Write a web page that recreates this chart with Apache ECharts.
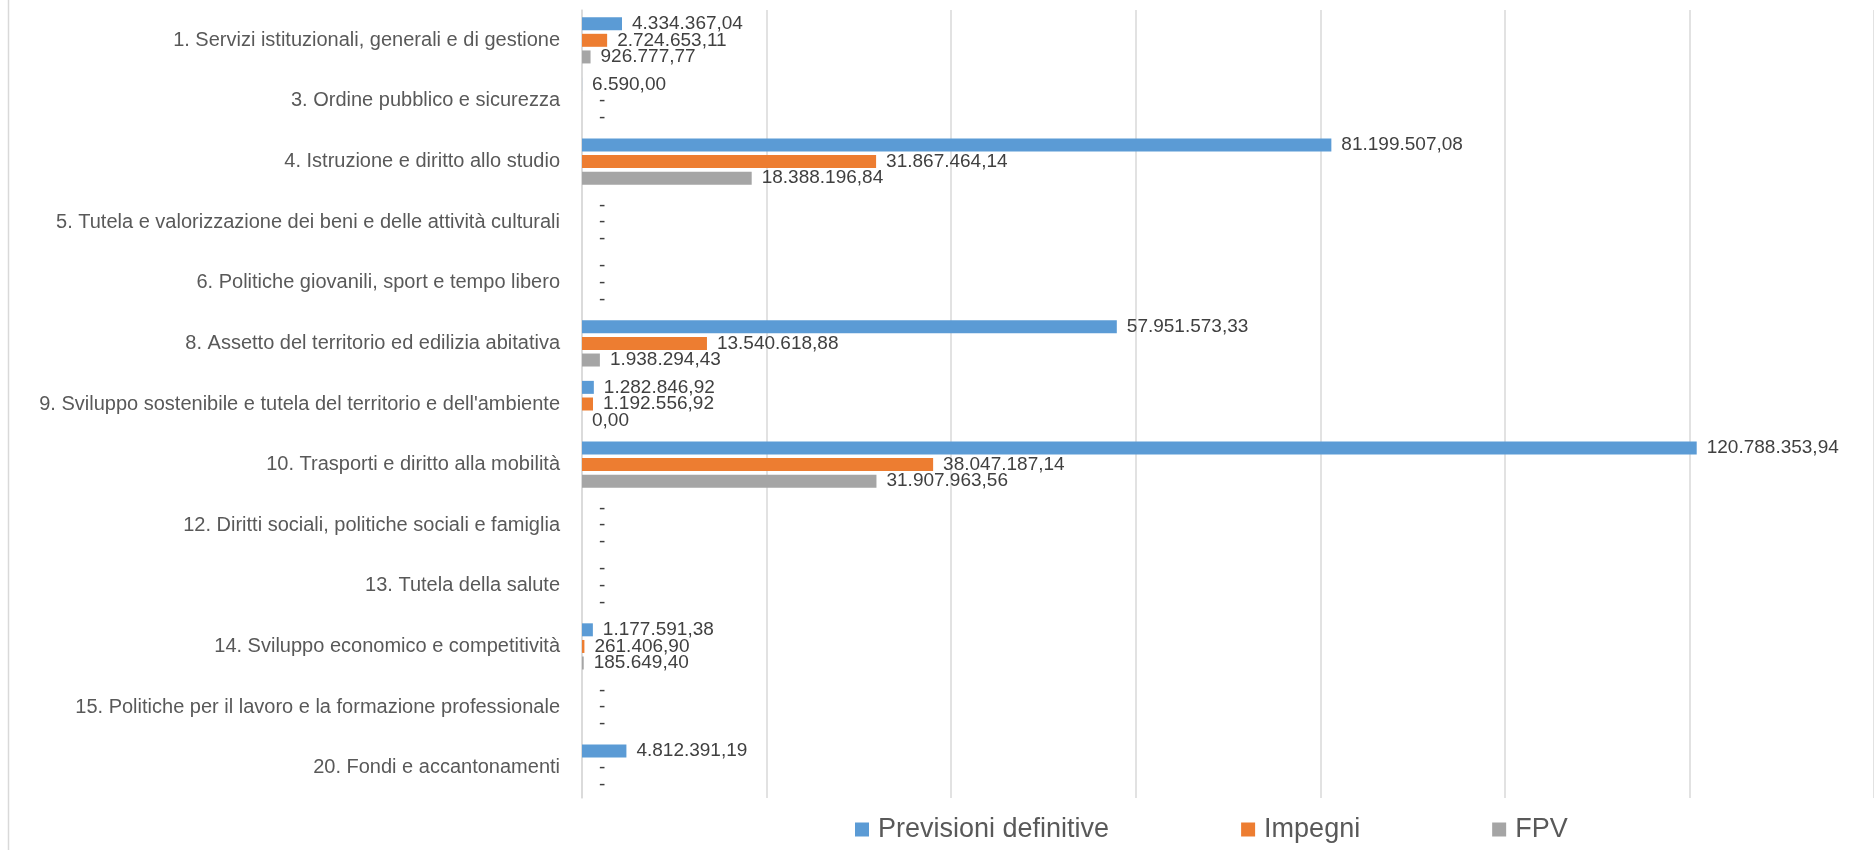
<!DOCTYPE html>
<html>
<head>
<meta charset="utf-8">
<script src="https://cdn.jsdelivr.net/npm/echarts@6/dist/echarts.min.js"></script>
<style>
  html, body { margin: 0; padding: 0; background: #ffffff; }
  #chart { width: 1874px; height: 850px; }
</style>
</head>
<body>
<div id="chart"></div>
<script>
const categories = [
  "1. Servizi istituzionali, generali e di gestione",
  "3. Ordine pubblico e sicurezza",
  "4. Istruzione e diritto allo studio",
  "5. Tutela e valorizzazione dei beni e delle attività culturali",
  "6. Politiche giovanili, sport e tempo libero",
  "8. Assetto del territorio ed edilizia abitativa",
  "9. Sviluppo sostenibile e tutela del territorio e dell'ambiente",
  "10. Trasporti e diritto alla mobilità",
  "12. Diritti sociali, politiche sociali e famiglia",
  "13. Tutela della salute",
  "14. Sviluppo economico e competitività",
  "15. Politiche per il lavoro e la formazione professionale",
  "20. Fondi e accantonamenti"
];
const seriesNames = ["Previsioni definitive", "Impegni", "FPV"];
const previsioniDefinitive = [4334367.04, 6590.00, 81199507.08, 0, 0, 57951573.33, 1282846.92, 120788353.94, 0, 0, 1177591.38, 0, 4812391.19];
const impegni = [2724653.11, 0, 31867464.14, 0, 0, 13540618.88, 1192556.92, 38047187.14, 0, 0, 261406.90, 0, 0];
const fpv = [926777.77, 0, 18388196.84, 0, 0, 1938294.43, 0.001, 31907963.56, 0, 0, 185649.40, 0, 0];

const FONT = "'Liberation Sans', Arial, sans-serif";

function fmtIt(v) {
  const parts = v.toFixed(2).split('.');
  const intPart = parts[0].replace(/\B(?=(\d{3})+(?!\d))/g, '.');
  return intPart + ',' + parts[1];
}

function makeSeries(name, data, color) {
  return {
    name: name,
    type: 'bar',
    data: data,
    barWidth: 13,
    barGap: '28%',
    itemStyle: { color: color },
    label: {
      show: true,
      position: 'right',
      distance: 10,
      color: '#404040',
      fontFamily: FONT,
      fontSize: 19,
      formatter: function (p) {
        if (p.value === 0) return '{d|-}';
        return fmtIt(p.value);
      },
      rich: {
        d: { color: '#404040', fontFamily: FONT, fontSize: 19, padding: [0, 0, 0, 7] }
      }
    }
  };
}

const chart = echarts.init(document.getElementById('chart'), null, { renderer: 'canvas' });
chart.setOption({
  animation: false,
  backgroundColor: '#ffffff',
  textStyle: { fontFamily: FONT },
  grid: { left: 582, top: 10, height: 788, width: 1330, containLabel: false },
  xAxis: {
    type: 'value',
    min: 0,
    max: 140000000,
    interval: 20000000,
    axisLabel: { show: false },
    axisLine: { show: false },
    axisTick: { show: false },
    splitLine: { show: true, lineStyle: { color: '#d9d9d9', width: 1.5 } }
  },
  yAxis: {
    type: 'category',
    data: categories,
    inverse: true,
    axisLine: { show: true, lineStyle: { color: '#d9d9d9', width: 1.5 } },
    axisTick: { show: false },
    axisLabel: { color: '#595959', fontSize: 20, fontFamily: FONT, margin: 22 }
  },
  legend: {
    data: seriesNames,
    left: 850,
    top: 811,
    itemWidth: 14,
    itemHeight: 14,
    itemGap: 132,
    icon: 'rect',
    textStyle: { color: '#595959', fontSize: 27, fontFamily: FONT, padding: [0, 0, 0, 4] }
  },
  graphic: [{
    type: 'line',
    shape: { x1: 8.5, y1: 0, x2: 8.5, y2: 850 },
    style: { stroke: '#d9d9d9', lineWidth: 1.5 },
    silent: true
  }],
  series: [
    makeSeries(seriesNames[0], previsioniDefinitive, '#5B9BD5'),
    makeSeries(seriesNames[1], impegni, '#ED7D31'),
    makeSeries(seriesNames[2], fpv, '#A5A5A5')
  ]
});
</script>
</body>
</html>
